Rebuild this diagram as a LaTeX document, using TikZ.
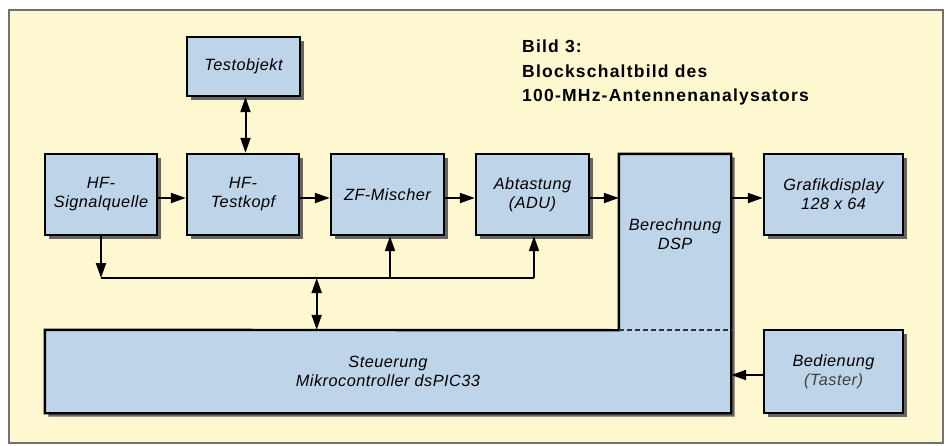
\documentclass[tikz,border=0pt]{standalone}
\usepackage{fontspec}
\setmainfont{Liberation Sans}
\newfontfamily\boxfont{Liberation Sans}[LetterSpace=3]
\newfontfamily\titlefont{Liberation Sans}[LetterSpace=7]
\usetikzlibrary{arrows.meta,shadows,calc}
\definecolor{bgyellow}{HTML}{FEF8D0}
\definecolor{boxblue}{HTML}{BED4E8}
\definecolor{framegray}{HTML}{707070}
\tikzset{
  >={Triangle[length=15pt,width=10pt]},
  boxtext/.style={align=center, inner sep=0pt, font=\boxfont\itshape\fontsize{16.3}{19}\selectfont},
  blockbox/.style={boxtext, draw=black, line width=2.4pt, fill=boxblue,
    drop shadow={shadow xshift=3.5pt, shadow yshift=-3.5pt, fill=black!60, opacity=1}},
  holder/.style={inner sep=0pt, draw=none, fill=none},
  conn/.style={line width=2pt, ->},
  biconn/.style={line width=2pt, <->},
  busline/.style={line width=2pt},
}
\begin{document}
\begin{tikzpicture}[x=1pt,y=-1pt]
\useasboundingbox (0,0) rectangle (946,445);
\fill[white] (0,0) rectangle (946,445);
\draw[framegray, line width=1.2pt, fill=bgyellow] (9,10) rectangle (943,443);

% blocks
\node[blockbox, minimum width=113pt, minimum height=59pt] (testobj) at (243.5,66.5) {Testobjekt};
\node[blockbox, minimum width=112pt, minimum height=81pt] (hfsig) at (101,194.5) {HF-\\Signalquelle};
\node[blockbox, minimum width=112pt, minimum height=81pt] (hftk) at (243,194.5) {HF-\\Testkopf};
\node[blockbox, minimum width=113pt, minimum height=81pt] (zf) at (387.5,194.5) {ZF-Mischer};
\node[blockbox, minimum width=113pt, minimum height=81pt] (abt) at (532.5,194.5) {Abtastung\\(ADU)};
\node[blockbox, minimum width=139pt, minimum height=81pt] (grafik) at (833.5,194.5) {Grafikdisplay\\128 x 64};
\node[blockbox, minimum width=139pt, minimum height=83pt] (bed) at (833.5,371.5) {Bedienung\\\textcolor{black!75}{(Taster)}};

% combined DSP / controller shape
\node[holder, minimum width=112pt, minimum height=176pt] (dsp) at (675,242) {};
\node[holder, minimum width=686pt, minimum height=83pt] (steu) at (388,371.5) {};
\fill[black!60, transform canvas={xshift=3.5pt,yshift=-3.5pt}]
  (steu.north west) -- (dsp.south west) -- (dsp.north west) -- (dsp.north east)
  -- (steu.south east) -- (steu.south west) -- cycle;
\draw[line width=2.4pt, fill=boxblue, line join=miter]
  (steu.north west) -- (dsp.south west) -- (dsp.north west) -- (dsp.north east)
  -- (steu.south east) -- (steu.south west) -- cycle;
\draw[line width=1.8pt, black!80, dash pattern=on 5pt off 3pt] (dsp.south west) -- (dsp.south east);
\node[boxtext] (dsptext) at (675,234.5) {Berechnung\\DSP};
\node[boxtext] (steutext) at (steu.center) {Steuerung\\Mikrocontroller dsPIC33};

% title
\node[anchor=west, align=left, inner sep=0pt,
  font=\titlefont\bfseries\fontsize{17.5}{24.5}\selectfont] (title) at (522,72.5)
  {Bild 3:\\Blockschaltbild des\\100-MHz-Antennenanalysators};

% signal chain
\draw[conn] ($(hfsig.east)+(0,3.5)$) -- ($(hftk.west)+(0,3.5)$);
\draw[conn] ($(hftk.east)+(0,3.5)$) -- ($(zf.west)+(0,3.5)$);
\draw[conn] ($(zf.east)+(0,3.5)$) -- ($(abt.west)+(0,3.5)$);
\draw[conn] ($(abt.east)+(0,3.5)$) -- ($(abt.east -| dsp.west)+(0,3.5)$);
\draw[conn] ($(dsp.east |- grafik.west)+(0,3.5)$) -- ($(grafik.west)+(0,3.5)$);
\draw[biconn] ($(testobj.south)+(2,0)$) -- ($(hftk.north)+(2.5,0)$);

% bus
\coordinate (busy) at (0,278);
\coordinate (busmid) at (316.7,278);
\coordinate (zfin) at ($(zf.south)+(2.5,0)$);
\coordinate (abtin) at ($(abt.south)+(1.5,0)$);
\draw[conn] (hfsig.south) -- (hfsig.south |- busy);
\draw[busline] (hfsig.south |- busy) -- (abtin |- busy);
\draw[conn] (zfin |- busy) -- (zfin);
\draw[conn] (abtin |- busy) -- (abtin);
\draw[biconn] (busmid) -- (busmid |- steu.north);

% operator input
\draw[conn] ($(bed.west)+(0,3.5)$) -- ($(steu.east)+(0,3.5)$);
\end{tikzpicture}
\end{document}
